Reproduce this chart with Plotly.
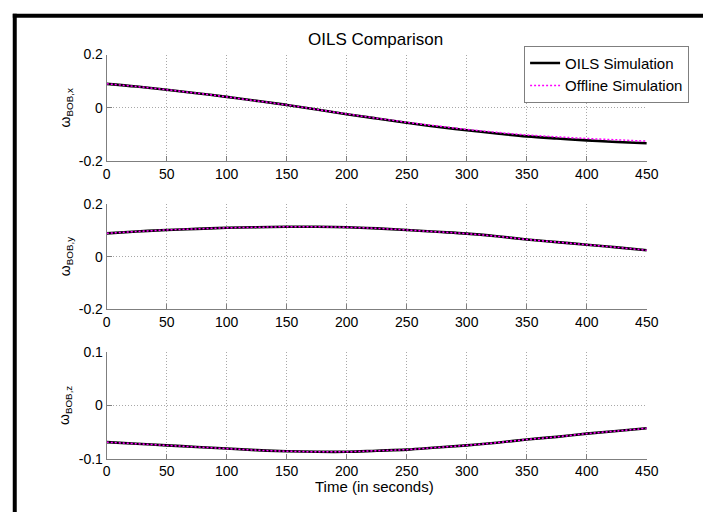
import plotly.graph_objects as go

# ---- data ----
time_s = [0, 25, 50, 75, 100, 125, 150, 175, 200, 225, 250, 275, 300, 325, 350, 375, 400, 425, 450]

oils_x = [0.090, 0.080, 0.068, 0.055, 0.041, 0.026, 0.011, -0.006, -0.024, -0.040, -0.056, -0.071,
          -0.084, -0.096, -0.107, -0.115, -0.122, -0.128, -0.133]
offl_x = [0.090, 0.080, 0.068, 0.055, 0.041, 0.026, 0.011, -0.006, -0.023, -0.039, -0.054, -0.068,
          -0.081, -0.092, -0.102, -0.109, -0.115, -0.120, -0.125]

oils_y = [0.088, 0.095, 0.101, 0.105, 0.109, 0.111, 0.113, 0.113, 0.111, 0.107, 0.101, 0.094,
          0.087, 0.077, 0.065, 0.055, 0.045, 0.035, 0.024]
offl_y = oils_y

oils_z = [-0.069, -0.072, -0.075, -0.078, -0.081, -0.084, -0.086, -0.087, -0.087, -0.085, -0.083,
          -0.079, -0.075, -0.070, -0.064, -0.059, -0.053, -0.048, -0.043]
offl_z = oils_z

x_ticks = [0, 50, 100, 150, 200, 250, 300, 350, 400, 450]
y_ranges = [[-0.2, 0.2], [-0.2, 0.2], [-0.1, 0.1]]
y_ticks = [[-0.2, 0, 0.2], [-0.2, 0, 0.2], [-0.1, 0, 0.1]]
y_ticklabels = [["-0.2", "0", "0.2"], ["-0.2", "0", "0.2"], ["-0.1", "0", "0.1"]]
y_labels = ["ω<sub>BOB,x</sub>", "ω<sub>BOB,y</sub>", "ω<sub>BOB,z</sub>"]
series_names = ["OILS Simulation", "Offline Simulation"]
title_text = "OILS Comparison"
x_label = "Time (in seconds)"

# figure fills the whole 715x520 window (body margin removed after drawing)
W, H = 715, 520
FONT = "Liberation Sans, Arial, sans-serif"


def px(x):  # page x pixel -> paper fraction
    return x / W


def py(y):  # page y pixel -> paper fraction
    return 1 - y / H


# page-pixel layout
x_left, x_right = 105, 657.5
rows_px = [(48, 158), (202, 311), (355, 465)]

fig = go.Figure()
oils = [oils_x, oils_y, oils_z]
offl = [offl_x, offl_y, offl_z]

for i in range(3):
    sfx = "" if i == 0 else str(i + 1)
    fig.add_trace(go.Scatter(x=time_s, y=oils[i], mode="lines", name=series_names[0],
                             line=dict(color="black", width=2.6, shape="spline"),
                             xaxis="x" + sfx, yaxis="y" + sfx, showlegend=(i == 0)))
    fig.add_trace(go.Scatter(x=time_s, y=offl[i], mode="lines", name=series_names[1],
                             line=dict(color="#FF00FF", width=1.5, dash="2px,2px", shape="spline"),
                             xaxis="x" + sfx, yaxis="y" + sfx, showlegend=(i == 0)))

axis_common = dict(showline=True, linecolor="#7f7f7f", linewidth=1, mirror=False,
                   ticks="inside", ticklen=5, tickcolor="#7f7f7f",
                   showgrid=True, gridcolor="#a8a8a8", griddash="1px,2px", gridwidth=1,
                   zeroline=False, tickfont=dict(family=FONT, size=14, color="black"))

layout = dict(width=W, height=H, margin=dict(l=0, r=0, t=0, b=0),
              paper_bgcolor="white", plot_bgcolor="white",
              font=dict(family=FONT, color="black"))

annotations = []
for i in range(3):
    sfx = "" if i == 0 else str(i + 1)
    top, bot = rows_px[i]
    layout["xaxis" + sfx] = dict(axis_common, domain=[px(x_left), px(x_right)], range=[0, 450],
                                 tickvals=x_ticks, anchor="y" + sfx)
    layout["yaxis" + sfx] = dict(axis_common, domain=[py(bot), py(top)], range=y_ranges[i],
                                 tickvals=y_ticks[i], ticktext=y_ticklabels[i], anchor="x" + sfx)
    annotations.append(dict(text=y_labels[i], x=px(63), y=py((top + bot) / 2),
                            xref="paper", yref="paper", showarrow=False, textangle=-90,
                            xanchor="center", yanchor="middle",
                            font=dict(family=FONT, size=14, color="black")))

annotations.append(dict(text=title_text, x=px(380), y=py(32), xref="paper", yref="paper",
                        showarrow=False, xanchor="center", yanchor="middle",
                        font=dict(family=FONT, size=17, color="black")))
annotations.append(dict(text=x_label, x=px(379), y=py(494), xref="paper", yref="paper",
                        showarrow=False, xanchor="center", yanchor="middle",
                        font=dict(family=FONT, size=15, color="black")))
layout["annotations"] = annotations

layout["legend"] = dict(x=px(532), y=py(39), xanchor="left", yanchor="top",
                        bgcolor="white", bordercolor="#7f7f7f", borderwidth=1,
                        font=dict(family=FONT, size=15, color="black"),
                        tracegroupgap=0, itemwidth=30)

layout["shapes"] = [
    dict(type="line", xref="paper", yref="paper", x0=px(9), x1=1, y0=py(8), y1=py(8),
         line=dict(color="black", width=4)),
    dict(type="line", xref="paper", yref="paper", x0=px(11), x1=px(11), y0=0, y1=py(6),
         line=dict(color="black", width=4)),
]

fig.update_layout(**layout)
fig.write_html("out.html",
               config={"displayModeBar": False},
               post_script="document.body.style.margin='0px';document.body.style.overflow='hidden';")
